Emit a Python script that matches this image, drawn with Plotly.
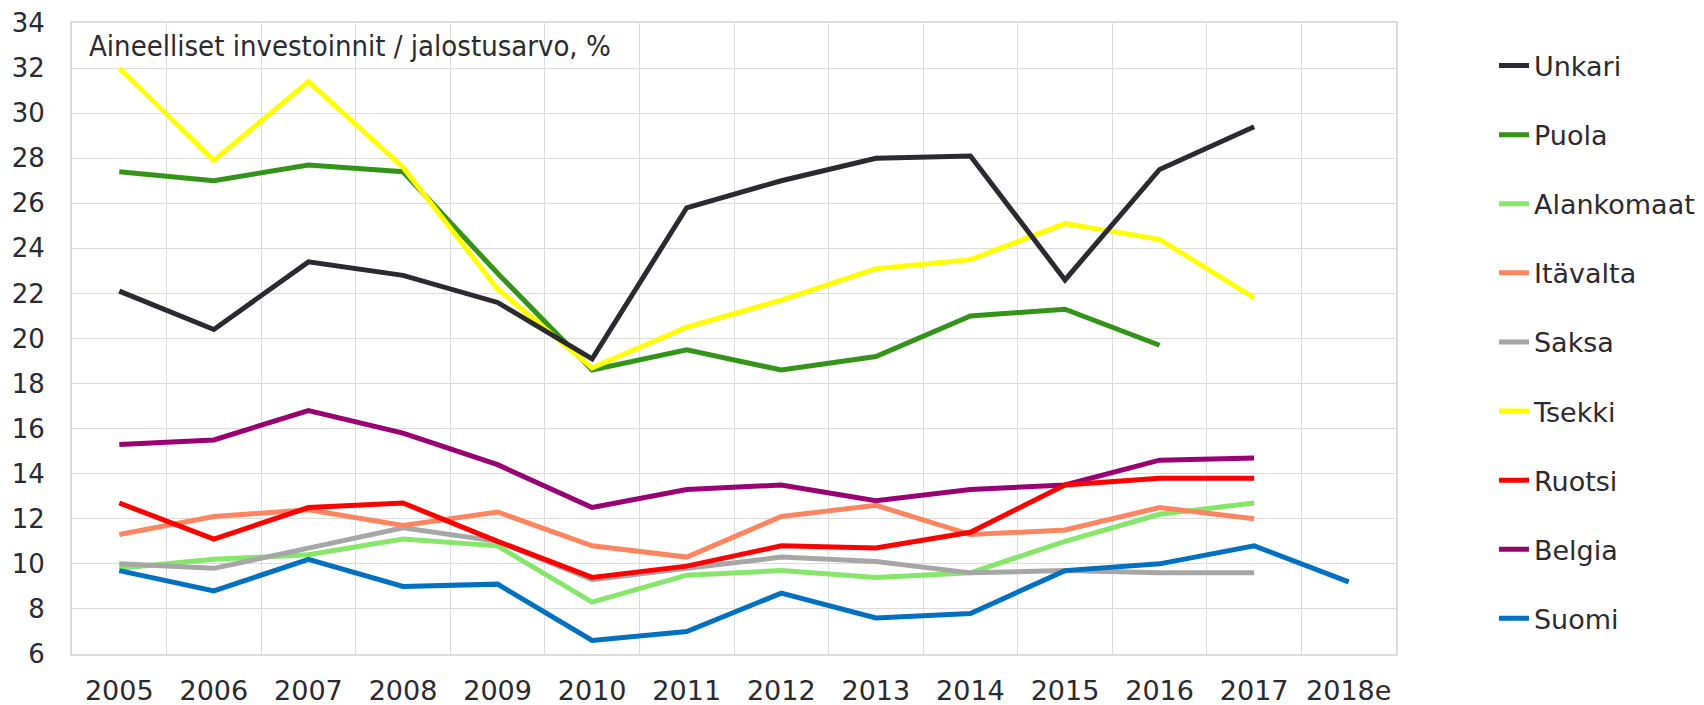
import plotly.graph_objects as go

years = ["2005", "2006", "2007", "2008", "2009", "2010", "2011", "2012",
         "2013", "2014", "2015", "2016", "2017", "2018e"]

unkari = [22.1, 20.4, 23.4, 22.8, 21.6, 19.1, 25.8, 27.0, 28.0, 28.1, 22.6, 27.5, 29.4, None]
puola = [27.4, 27.0, 27.7, 27.4, 22.9, 18.6, 19.5, 18.6, 19.2, 21.0, 21.3, 19.7, None, None]
alankomaat = [9.8, 10.2, 10.4, 11.1, 10.8, 8.3, 9.5, 9.7, 9.4, 9.6, 11.0, 12.2, 12.7, None]
itavalta = [11.3, 12.1, 12.4, 11.7, 12.3, 10.8, 10.3, 12.1, 12.6, 11.3, 11.5, 12.5, 12.0, None]
saksa = [10.0, 9.8, 10.7, 11.6, 11.0, 9.3, 9.8, 10.3, 10.1, 9.6, 9.7, 9.6, 9.6, None]
tsekki = [32.0, 27.9, 31.4, 27.6, 22.2, 18.7, 20.5, 21.7, 23.1, 23.5, 25.1, 24.4, 21.8, None]
ruotsi = [12.7, 11.1, 12.5, 12.7, 11.0, 9.4, 9.9, 10.8, 10.7, 11.4, 13.5, 13.8, 13.8, None]
belgia = [15.3, 15.5, 16.8, 15.8, 14.4, 12.5, 13.3, 13.5, 12.8, 13.3, 13.5, 14.6, 14.7, None]
suomi = [9.7, 8.8, 10.2, 9.0, 9.1, 6.6, 7.0, 8.7, 7.6, 7.8, 9.7, 10.0, 10.8, 9.2]

series_names = ["Unkari", "Puola", "Alankomaat", "Itävalta", "Saksa",
                "Tsekki", "Ruotsi", "Belgia", "Suomi"]
series_values = [unkari, puola, alankomaat, itavalta, saksa, tsekki, ruotsi, belgia, suomi]
series_colors = ["#2b2a30", "#339419", "#86e66a", "#ff8560", "#a6a6a6",
                 "#ffff00", "#ff0000", "#990073", "#0070c0"]

# drawing order (bottom to top)
draw_order = ["Puola", "Tsekki", "Unkari", "Alankomaat", "Saksa", "Itävalta",
              "Belgia", "Ruotsi", "Suomi"]

fig = go.Figure()
for name in draw_order:
    i = series_names.index(name)
    fig.add_trace(go.Scatter(
        x=years, y=series_values[i], name=name, mode="lines",
        line=dict(color=series_colors[i], width=5),
        connectgaps=False, legendrank=i + 1, legendgroup=name,
    ))

grid = "#dcdcdc"
fig.update_layout(
    width=1696, height=697,
    margin=dict(l=64, r=308, t=15, b=51, autoexpand=False),
    paper_bgcolor="white", plot_bgcolor="white",
    font=dict(family="DejaVu Sans", color="#2b2a30"),
    showlegend=True,
    legend=dict(
        x=1.074, xanchor="left", y=0.9707, yanchor="top",
        font=dict(family="DejaVu Sans", size=27, color="#2b2a30"),
        tracegroupgap=31, bgcolor="rgba(0,0,0,0)",
    ),
    xaxis=dict(
        type="category", categoryorder="array", categoryarray=years,
        tickson="boundaries", showgrid=True, gridcolor=grid, gridwidth=1,
        showline=True, linecolor=grid, linewidth=2, mirror=True,
        ticks="", tickfont=dict(size=27, color="#2b2a30"),
        ticklabelstandoff=12, range=[-0.5, 13.5], automargin=False,
        ticklabeloverflow="allow",
    ),
    yaxis=dict(
        range=[6, 34], dtick=2, tick0=6, showgrid=True, gridcolor=grid, gridwidth=1,
        showline=True, linecolor=grid, linewidth=2, mirror=True,
        ticks="", tickfont=dict(size=26, color="#2b2a30"),
        ticklabelstandoff=20, zeroline=False, automargin=False,
        ticklabeloverflow="allow",
    ),
    annotations=[dict(
        text="Aineelliset investoinnit / jalostusarvo, %",
        xref="paper", yref="paper", x=0.011, y=0.964, xanchor="left", yanchor="middle",
        showarrow=False,
        font=dict(family="DejaVu Sans Condensed", size=29, color="#2b2a30"),
    )],
)

fig.write_html("out.html")
